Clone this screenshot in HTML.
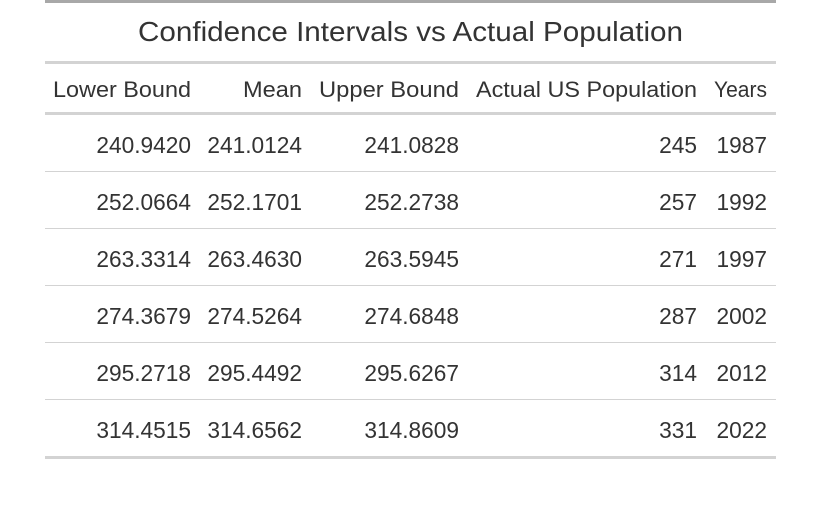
<!DOCTYPE html>
<html><head><meta charset="utf-8"><style>
html,body{margin:0;padding:0;background:#fff;width:815px;height:519px;overflow:hidden}
svg{display:block;font-family:"Liberation Sans",sans-serif;fill:#333}
</style></head><body>
<svg id="t" width="815" height="519">
<rect x="45" y="0" width="731" height="3" fill="#a8a8a8"/>
<text x="138" y="41" font-size="28" textLength="545" lengthAdjust="spacingAndGlyphs">Confidence Intervals vs Actual Population</text>
<rect x="45" y="61" width="731" height="3" fill="#d3d3d3"/>
<rect x="45" y="112" width="731" height="3" fill="#d3d3d3"/>
<rect x="45" y="456" width="731" height="3" fill="#d3d3d3"/>
</svg>
<script>
const headers=["Lower Bound","Mean","Upper Bound","Actual US Population","Years"];
const lower=["240.9420","252.0664","263.3314","274.3679","295.2718","314.4515"];
const mean=["241.0124","252.1701","263.4630","274.5264","295.4492","314.6562"];
const upper=["241.0828","252.2738","263.5945","274.6848","295.6267","314.8609"];
const actual=["245","257","271","287","314","331"];
const years=["1987","1992","1997","2002","2012","2022"];
const svg=document.getElementById('t');
const NS="http://www.w3.org/2000/svg";
const rightEdges=[191,302,459,697,767];
const headerWidths=[138,59,140,221,53];
const cols=[lower,mean,upper,actual,years];
const colNames=["lower-bound","mean","upper-bound","actual-population","years"];
function txt(x,y,s,anchor,fs){const t=document.createElementNS(NS,'text');t.setAttribute('x',x);t.setAttribute('y',y);t.setAttribute('font-size',fs);t.setAttribute('text-anchor',anchor);t.textContent=s;svg.appendChild(t);return t;}
headers.forEach((h,i)=>{
  const t=txt(rightEdges[i]-headerWidths[i],97,h,'start',22);
  t.setAttribute('textLength',headerWidths[i]);
  t.setAttribute('lengthAdjust','spacingAndGlyphs');
  
  
});
for(let r=0;r<years.length;r++){
  const y=153+r*57;
  cols.forEach((c,i)=>{
    const t=txt(rightEdges[i],y,c[r],'end',22.7);
    
    
  });
  if(r<years.length-1){
    const l=document.createElementNS(NS,'rect');
    l.setAttribute('x',45);l.setAttribute('y',171+r*57);l.setAttribute('width',731);l.setAttribute('height',1);l.setAttribute('fill','#d3d3d3');
    
    
    svg.appendChild(l);
  }
}
</script>
</body></html>
